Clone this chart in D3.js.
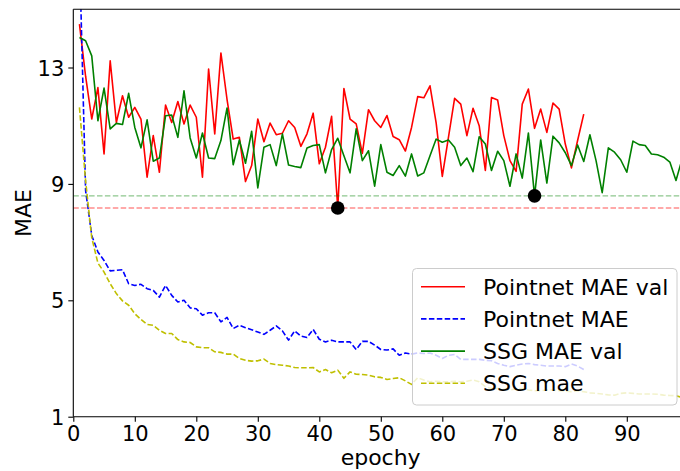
<!DOCTYPE html>
<html>
<head>
<meta charset="utf-8">
<script src="https://cdn.jsdelivr.net/npm/d3@7/dist/d3.min.js"></script>
<style>
  html, body { margin: 0; padding: 0; background: #fff; }
  svg { display: block; font-family: "DejaVu Sans", sans-serif; }
</style>
</head>
<body>
<svg id="chart" width="680" height="471"></svg>
<script>
// Validation MAE per epoch (epochs start at 1)
const pointnetVal = [14.49, 12.7, 11.23, 12.31, 10.03, 13.23, 11.11, 12.03, 11.29, 11.63,
  11.23, 9.23, 10.66, 9.40, 11.71, 11.11, 11.83, 11.06, 11.71, 11.29,
  9.23, 12.95, 10.72, 13.5, 11.9, 10.54, 10.6, 9.08, 9.63, 11.23,
  10.45, 11.09, 10.69, 10.74, 11.17, 10.94, 10.29, 10.72, 11.43, 9.69,
  10.26, 11.32, 8.17, 12.28, 11.23, 11.06, 10.05, 11.55, 11.17, 10.94,
  11.35, 10.63, 10.52, 10.13, 10.94, 12.0, 11.96, 12.37, 11.1, 9.26,
  10.6, 11.94, 11.74, 10.66, 11.6, 11.0, 9.46, 11.97, 11.88, 10.66,
  9.80, 9.43, 11.74, 12.26, 10.91, 11.57, 10.77, 11.78, 11.57, 10.37,
  9.55, 10.49, 11.40];

// Training MAE per epoch
const pointnetTrain = [17.0, 8.77, 7.23, 6.66, 6.37, 6.01, 6.03, 6.05, 5.57, 5.51,
  5.55, 5.4, 5.34, 5.11, 5.51, 5.17, 4.94, 5.0, 4.74, 4.71,
  4.49, 4.57, 4.57, 4.26, 4.41, 4.03, 4.14, 4.06, 3.99, 3.91,
  3.83, 3.97, 4.12, 3.95, 3.63, 3.95, 3.77, 3.72, 4.0, 3.66,
  3.57, 3.63, 3.57, 3.57, 3.57, 3.31, 3.59, 3.59, 3.46, 3.31,
  3.29, 3.33, 3.11, 3.19, 3.15, 3.19, 3.17, 3.19, 3.11, 3.0,
  3.11, 3.14, 2.97, 2.97, 2.97, 2.97, 2.94, 2.92, 2.83, 2.77,
  2.72, 2.77, 2.81, 2.83, 2.79, 2.77, 2.74, 2.74, 2.74, 2.72,
  2.81, 2.74, 2.62];

const ssgVal = [14.03, 13.92, 13.40, 11.17, 12.29, 10.89, 11.08, 11.04, 12.11, 10.94,
  10.24, 11.2, 9.78, 9.89, 11.34, 11.37, 10.6, 12.2, 10.58, 9.89,
  10.75, 9.89, 9.87, 10.49, 11.61, 9.66, 10.51, 9.71, 10.81, 8.86,
  10.26, 10.35, 9.63, 10.72, 9.65, 9.6, 9.56, 10.23, 10.32, 10.35,
  9.38, 10.18, 10.57, 9.97, 9.38, 10.89, 9.8, 10.14, 8.92, 10.35,
  9.4, 9.29, 9.63, 9.27, 10.03, 9.27, 9.38, 9.97, 10.54, 10.43,
  10.51, 10.26, 9.63, 9.89, 9.42, 10.62, 10.37, 9.46, 10.12, 9.8,
  8.92, 10.03, 9.2, 10.75, 8.59, 10.51, 9.03, 10.64, 10.41, 10.07,
  9.63, 10.34, 9.77, 10.69, 9.8, 8.7, 10.24, 10.09, 9.83, 9.4,
  10.47, 10.35, 10.32, 10.03, 10.0, 9.92, 9.75, 9.12, 9.86];

const ssgTrain = [11.63, 9.11, 7.15, 6.28, 5.97, 5.57, 5.23, 4.98, 4.83, 4.54,
  4.34, 4.17, 4.14, 3.97, 3.86, 3.86, 3.65, 3.57, 3.55, 3.40,
  3.37, 3.37, 3.23, 3.21, 3.15, 3.15, 3.0, 2.94, 2.91, 2.92,
  2.98, 2.83, 2.79, 2.77, 2.74, 2.69, 2.68, 2.68, 2.69, 2.54,
  2.62, 2.51, 2.6, 2.32, 2.54, 2.46, 2.45, 2.43, 2.37, 2.35,
  2.28, 2.31, 2.34, 2.23, 2.11, 2.34, 2.26, 2.2, 2.22, 2.2,
  2.2, 2.22, 2.2, 2.22, 2.26, 2.2, 2.03, 1.97, 1.97, 1.95,
  1.92, 1.95, 1.97, 1.92, 1.89, 1.89, 1.92, 1.92, 1.89, 1.88,
  1.86, 1.89, 1.86, 1.82, 1.8, 1.78, 1.75, 1.74, 1.8, 1.82,
  1.8, 1.78, 1.78, 1.78, 1.77, 1.74, 1.73, 1.72, 1.66];

const xTicks = [0, 10, 20, 30, 40, 50, 60, 70, 80, 90];
const yTicks = [1, 5, 9, 13];
const legendLabels = ["Pointnet MAE val", "Pointnet MAE", "SSG MAE val", "SSG mae"];

const svg = d3.select("#chart");
const padL = 73.3, padT = 9.3, padB = 416.7;
const x = d3.scaleLinear().domain([0, 100]).range([padL, padL + 615]);
const y = d3.scaleLinear().domain([1, 15]).range([padB, padT]);

svg.append("defs").append("clipPath").attr("id", "plotclip")
  .append("rect").attr("x", padL).attr("y", padT)
  .attr("width", 700 - padL).attr("height", padB - padT);

const toPts = arr => arr.map((v, i) => [i + 1, v]);
const line = d3.line().x(d => x(d[0])).y(d => y(d[1]));

const series = [
  { data: pointnetVal, color: "#ff0000", dash: null },
  { data: pointnetTrain, color: "#0000ff", dash: "5.5,2.4" },
  { data: ssgVal, color: "#008000", dash: null },
  { data: ssgTrain, color: "#bfbf00", dash: "5.5,2.4" }
];

const plot = svg.append("g").attr("clip-path", "url(#plotclip)");
series.forEach(s => {
  plot.append("path").datum(toPts(s.data))
    .attr("d", line)
    .attr("fill", "none")
    .attr("stroke", s.color)
    .attr("stroke-width", 1.6)
    .attr("stroke-linejoin", "round")
    .attr("stroke-dasharray", s.dash);
});

// best validation epoch for each model
const bestP = d3.minIndex(pointnetVal);
const bestS = d3.minIndex(ssgVal);
const refs = [
  { v: ssgVal[bestS], color: "rgba(0,128,0,0.45)" },
  { v: pointnetVal[bestP], color: "rgba(255,0,0,0.45)" }
];
refs.forEach(r => {
  plot.append("line")
    .attr("x1", padL).attr("x2", 700)
    .attr("y1", y(r.v)).attr("y2", y(r.v))
    .attr("stroke", r.color).attr("stroke-width", 1.4)
    .attr("stroke-dasharray", "5.5,2.4");
});
[[bestP + 1, pointnetVal[bestP]], [bestS + 1, ssgVal[bestS]]].forEach(p => {
  plot.append("circle").attr("cx", x(p[0])).attr("cy", y(p[1]))
    .attr("r", 6.8).attr("fill", "#000");
});

// axes
const xAxis = svg.append("g").attr("transform", `translate(0,${padB})`)
  .call(d3.axisBottom(x).tickValues(xTicks).tickFormat(d3.format("d")).tickSize(5).tickPadding(4));
const yAxis = svg.append("g").attr("transform", `translate(${padL},0)`)
  .call(d3.axisLeft(y).tickValues(yTicks).tickFormat(d3.format("d")).tickSize(5).tickPadding(4));
[xAxis, yAxis].forEach(a => {
  a.select(".domain").remove();
  a.selectAll(".tick line").attr("stroke", "#000").attr("stroke-width", 1.1);
  a.selectAll(".tick text").attr("fill", "#000")
    .style("font-family", "'DejaVu Sans', sans-serif").style("font-size", "21px");
});
yAxis.selectAll(".tick text").attr("dy", "0.36em");

// spines
svg.append("line").attr("x1", padL).attr("x2", padL).attr("y1", padT).attr("y2", padB)
  .attr("stroke", "#000").attr("stroke-width", 1.1);
svg.append("line").attr("x1", padL).attr("x2", 700).attr("y1", padB).attr("y2", padB)
  .attr("stroke", "#000").attr("stroke-width", 1.1);
svg.append("line").attr("x1", padL).attr("x2", 700).attr("y1", padT).attr("y2", padT)
  .attr("stroke", "#000").attr("stroke-width", 1.1);

// axis labels
svg.append("text").attr("x", (padL + 688) / 2).attr("y", 465)
  .attr("text-anchor", "middle").style("font-size", "22px").text("epochy");
svg.append("text").attr("transform", `translate(31,${(padT + padB) / 2}) rotate(-90)`)
  .attr("text-anchor", "middle").style("font-size", "22px").text("MAE");

// legend
const lg = svg.append("g");
lg.append("rect").attr("x", 412.5).attr("y", 268.5).attr("width", 264.5).attr("height", 136.5)
  .attr("rx", 4).attr("fill", "rgba(255,255,255,0.8)").attr("stroke", "#cccccc").attr("stroke-width", 1);
legendLabels.forEach((lab, i) => {
  const cy = 286.7 + i * 32.2;
  lg.append("line").attr("x1", 421).attr("x2", 465).attr("y1", cy).attr("y2", cy)
    .attr("stroke", series[i].color).attr("stroke-width", 1.6)
    .attr("stroke-dasharray", series[i].dash);
  lg.append("text").attr("x", 483).attr("y", cy).attr("dy", "0.36em")
    .style("font-size", "22px").attr("fill", "#000").text(lab);
});
</script>
</body>
</html>
